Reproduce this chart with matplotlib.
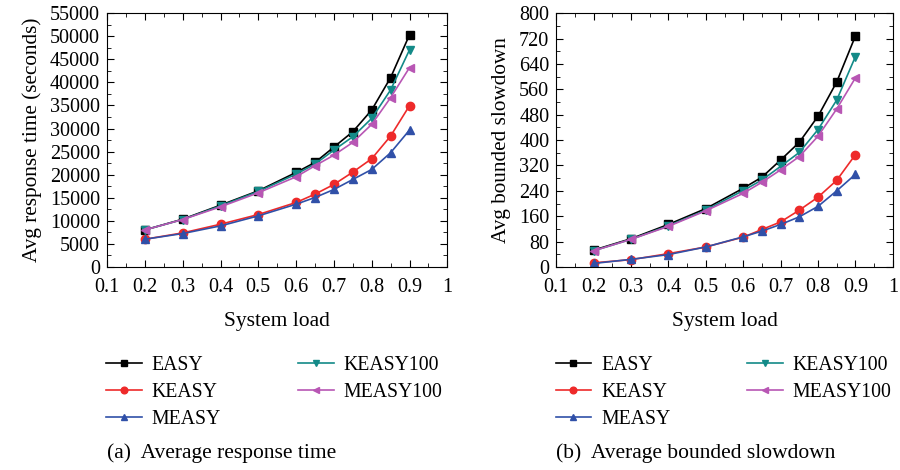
import numpy as np
import matplotlib.pyplot as plt
from matplotlib.ticker import MultipleLocator

plt.rcParams['font.family'] = ['Liberation Serif', 'DejaVu Serif']
plt.rcParams['mathtext.fontset'] = 'stix'

load = [0.2, 0.3, 0.4, 0.5, 0.6, 0.65, 0.7, 0.75, 0.8, 0.85, 0.9]

# Average response time (seconds)
rt_easy = [8030, 10350, 13390, 16500, 20480, 22650, 25980, 29310, 34010, 41030, 50300]
rt_keasy = [6010, 7380, 9260, 11360, 13970, 15780, 17880, 20550, 23450, 28370, 34950]
rt_measy = [6010, 7240, 8900, 11070, 13600, 15050, 16790, 18960, 21130, 24750, 29670]
rt_keasy100 = [8030, 10280, 13240, 16360, 20120, 22290, 25330, 28220, 32200, 38360, 47040]
rt_measy100 = [8030, 10280, 13030, 16070, 19540, 21930, 24240, 26990, 30900, 36690, 43200]

# Average bounded slowdown
sd_easy = [53, 89, 134, 184, 248, 283, 337, 393, 475, 583, 728]
sd_keasy = [13, 23, 42, 63, 94, 118, 142, 179, 220, 273, 354]
sd_measy = [11, 24, 39, 63, 95, 113, 134, 158, 191, 240, 292]
sd_keasy100 = [51, 87, 130, 179, 241, 274, 317, 361, 433, 526, 663]
sd_measy100 = [51, 87, 128, 177, 232, 267, 306, 348, 412, 498, 596]

names = ['EASY', 'KEASY', 'MEASY', 'KEASY100', 'MEASY100']
colors = ['#000000', '#ee2a2a', '#3050a8', '#138a88', '#b856b4']
markers = ['s', 'o', '^', 'v', '<']


def draw_panel(ax, series, ymax, ystep, ylabel, caption):
    for vals, name, c, m in zip(series, names, colors, markers):
        ax.plot(load, vals, color=c, marker=m, markersize=6, linewidth=1.2, label=name)
    ax.set_xlim(0.1, 1.0)
    ax.set_ylim(0, ymax)
    ax.set_xticks(np.arange(0.1, 1.01, 0.1))
    ax.set_xticklabels(['0.1', '0.2', '0.3', '0.4', '0.5', '0.6', '0.7', '0.8', '0.9', '1'])
    ax.yaxis.set_major_locator(MultipleLocator(ystep))
    ax.xaxis.set_minor_locator(MultipleLocator(0.05))
    ax.yaxis.set_minor_locator(MultipleLocator(ystep / 2))
    ax.tick_params(which='both', direction='in', top=True, right=True, labelsize=14.5)
    ax.tick_params(axis='x', pad=8)
    ax.tick_params(axis='y', pad=5)
    ax.tick_params(which='major', length=5)
    ax.tick_params(which='minor', length=3)
    ax.set_xlabel('System load', fontsize=15.5, labelpad=11)
    ax.set_ylabel(ylabel, fontsize=15.3, labelpad=6)
    ax.legend(loc='upper left', bbox_to_anchor=(-0.025, -0.32), ncol=2, frameon=False,
              fontsize=14.2, handlelength=1.8, handletextpad=0.5, columnspacing=3.9,
              labelspacing=0.4, markerscale=0.8, borderaxespad=0)
    ax.text(0.0, -0.732, caption, transform=ax.transAxes, fontsize=15.5,
            va='center', ha='left')


fig = plt.figure(figsize=(9, 4.7), dpi=100)
ax1 = fig.add_axes([0.119, 0.432, 0.378, 0.540])
ax2 = fig.add_axes([0.618, 0.432, 0.374, 0.540])

draw_panel(ax1, [rt_easy, rt_keasy, rt_measy, rt_keasy100, rt_measy100],
           55000, 5000, 'Avg response time (seconds)', '(a)  Average response time')
draw_panel(ax2, [sd_easy, sd_keasy, sd_measy, sd_keasy100, sd_measy100],
           800, 80, 'Avg bounded slowdown', '(b)  Average bounded slowdown')

fig.savefig('out.png', dpi=100)
